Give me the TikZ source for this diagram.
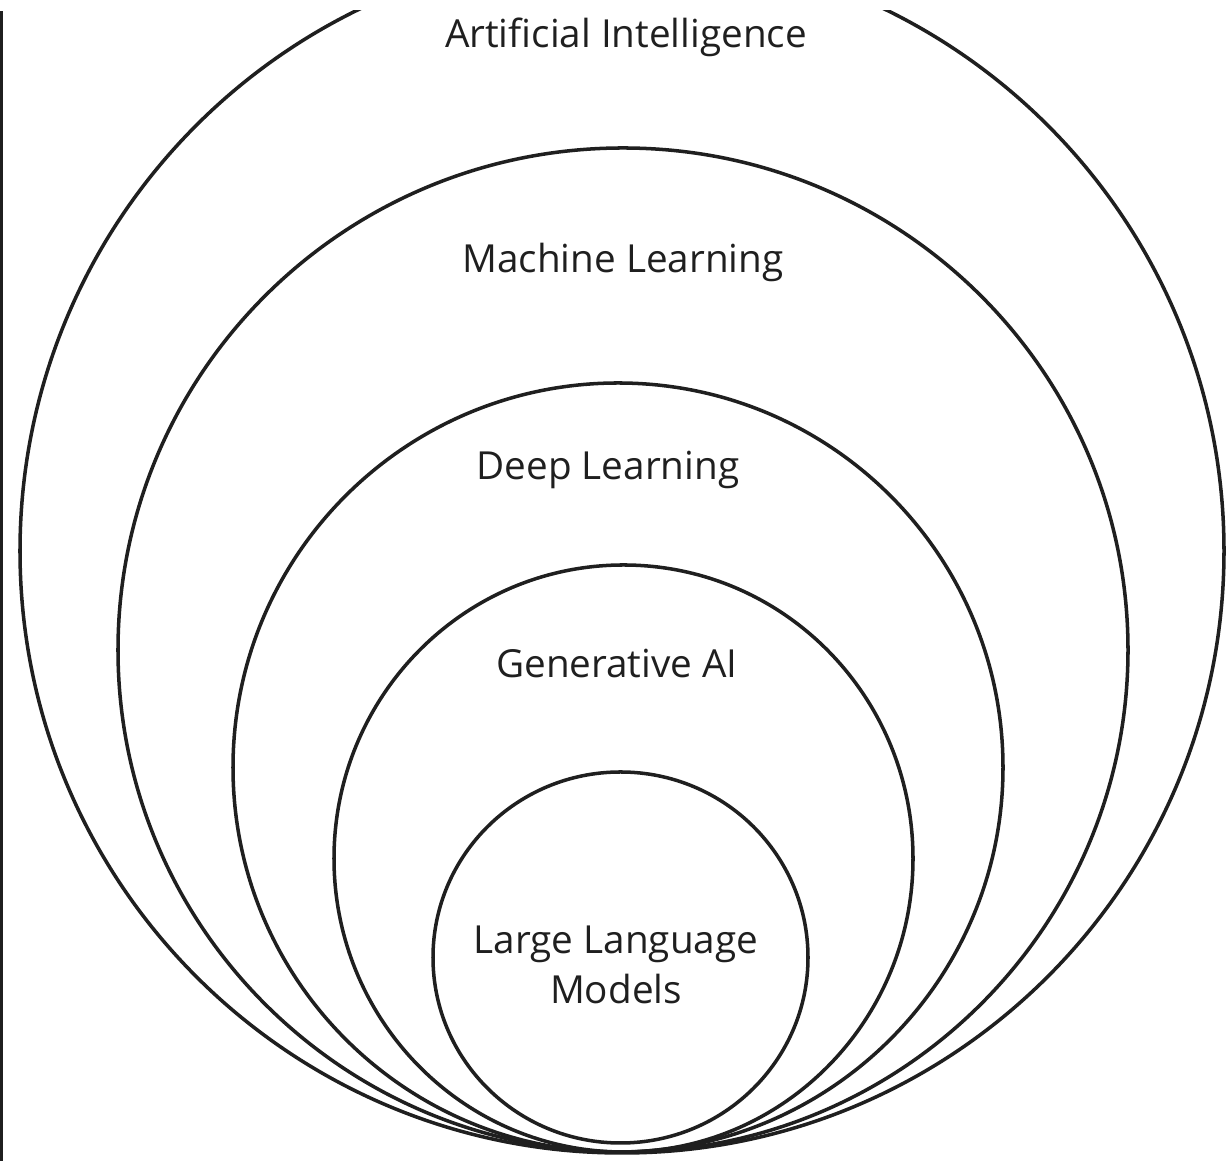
\documentclass[tikz,border=0pt]{standalone}
\usepackage{fontspec}
\usepackage{xcolor}
\usepackage{tikz}
\setmainfont{Open Sans}
\definecolor{ududud}{rgb}{0.12,0.12,0.12}
\tikzstyle{every node}=[font=\fontsize{22}{28.5}\selectfont,color=ududud]
\tikzstyle{ring}=[line width=2.pt,color=ududud]

\begin{document}
\begin{tikzpicture}[line join=round,x=1.0cm,y=1.0cm]
                    \useasboundingbox (0.,0.) rectangle (24.56,23.22);
                    \clip(0.,0.) rectangle (24.56,23.);
                    \draw [line width=1.6pt,color=ududud] (0.026,0.) -- (0.026,23.);

                    \draw [ring] (12.44,12.20) circle (12.04);
                    \draw [ring] (12.46,10.22) ellipse (10.10 and 10.04);
                    \draw [ring] (12.36,7.87) ellipse (7.70 and 7.69);
                    \draw [ring] (12.47,6.05) ellipse (5.79 and 5.87);
                    \draw [ring] (12.41,4.07) ellipse (3.75 and 3.71);

                    \node (ai) [anchor=base] at (12.52,22.26) {Artificial Intelligence};
                    \node (ml) [anchor=base] at (12.46,17.76) {Machine Learning};
                    \node (dl) [anchor=base] at (12.16,13.62) {Deep Learning};
                    \node (genai) [anchor=base] at (12.34,9.66) {Generative AI};
                    \node (llm) [align=center] at (12.32,3.92) {Large Language\\Models};
                    \end{tikzpicture}
\end{document}
